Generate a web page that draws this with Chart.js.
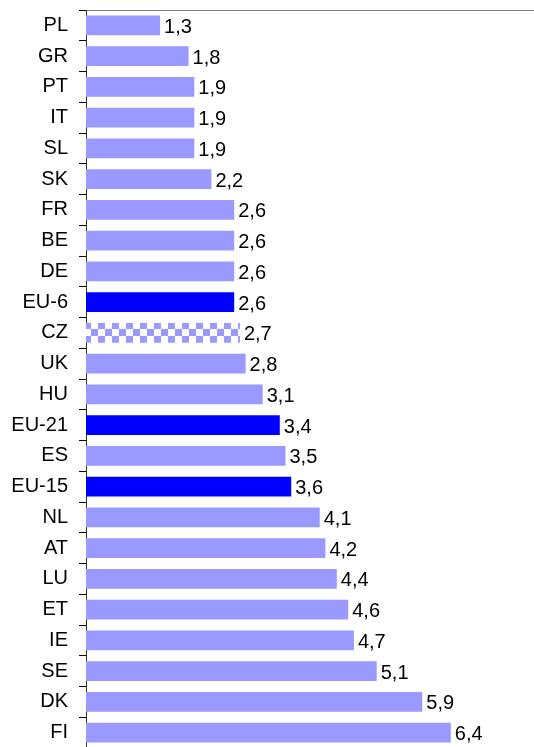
<!DOCTYPE html>
<html>
<head>
<meta charset="utf-8">
<script src="https://cdn.jsdelivr.net/npm/chart.js@4/dist/chart.umd.min.js"></script>
<style>
    html, body { margin: 0; padding: 0; background: #fff; overflow: hidden; }
    #wrap { position: absolute; left: 0; top: 0; }
</style>
</head>
<body>
<div id="wrap"><canvas id="barChart" width="542" height="748"></canvas></div>
<script>
// Data
const countries = ['PL', 'GR', 'PT', 'IT', 'SL', 'SK', 'FR', 'BE', 'DE', 'EU-6', 'CZ', 'UK',
    'HU', 'EU-21', 'ES', 'EU-15', 'NL', 'AT', 'LU', 'ET', 'IE', 'SE', 'DK', 'FI'];
const values = [1.3, 1.8, 1.9, 1.9, 1.9, 2.2, 2.6, 2.6, 2.6, 2.6, 2.7, 2.8,
    3.1, 3.4, 3.5, 3.6, 4.1, 4.2, 4.4, 4.6, 4.7, 5.1, 5.9, 6.4];
const euGroups = ['EU-6', 'EU-21', 'EU-15'];
const patterned = ['CZ'];

const FONT = 'Arial, "Liberation Sans", sans-serif';

// pola kotak-kotak untuk CZ
function checker() {
    const c = document.createElement('canvas');
    c.width = 14; c.height = 14;
    const g = c.getContext('2d');
    g.fillStyle = '#ffffff';
    g.fillRect(0, 0, 14, 14);
    g.fillStyle = '#9999ff';
    g.fillRect(0, 0, 7, 7);
    g.fillRect(7, 7, 7, 7);
    return g.createPattern(c, 'repeat');
}
const czPattern = checker();

const barColors = countries.map(c => {
    if (euGroups.includes(c)) return '#0000ff';
    if (patterned.includes(c)) return czPattern;
    return '#9999ff';
});

// label nilai di ujung batang
const valueLabels = {
    id: 'valueLabels',
    afterDatasetsDraw(chart) {
        const ctx = chart.ctx;
        const meta = chart.getDatasetMeta(0);
        ctx.save();
        ctx.font = '20px ' + FONT;
        ctx.fillStyle = '#000';
        ctx.textAlign = 'left';
        ctx.textBaseline = 'middle';
        meta.data.forEach((bar, i) => {
            const txt = values[i].toFixed(1).replace('.', ',');
            ctx.fillText(txt, bar.x + 4, bar.y + 2);
        });
        ctx.restore();
    }
};

const ctx = document.getElementById('barChart').getContext('2d');
new Chart(ctx, {
    type: 'bar',
    data: {
        labels: countries,
        datasets: [{
            data: values,
            backgroundColor: barColors,
            borderWidth: 0,
            barPercentage: 0.65,
            categoryPercentage: 1
        }]
    },
    options: {
        indexAxis: 'y',
        responsive: false,
        animation: false,
        devicePixelRatio: 1,
        layout: { padding: 0 },
        plugins: {
            legend: { display: false },
            tooltip: { enabled: false }
        },
        scales: {
            x: {
                position: 'top',
                min: 0,
                max: 8,
                ticks: { display: false },
                grid: { display: false },
                border: { display: true, color: '#808080', width: 1 },
                afterFit: s => {
                    s.height = 10;
                    s.paddingLeft = 0; s.paddingRight = 0;
                }
            },
            y: {
                ticks: {
                    color: '#000',
                    padding: 11,
                    font: { family: FONT, size: 20 }
                },
                grid: {
                    drawOnChartArea: false,
                    drawTicks: true,
                    tickLength: 7,
                    color: '#000',
                    offset: true
                },
                border: { display: true, color: '#333', width: 1 },
                afterFit: s => {
                    s.width = 86;
                    s.paddingTop = 0; s.paddingBottom = 0;
                }
            }
        }
    },
    plugins: [valueLabels]
});
</script>
</body>
</html>
